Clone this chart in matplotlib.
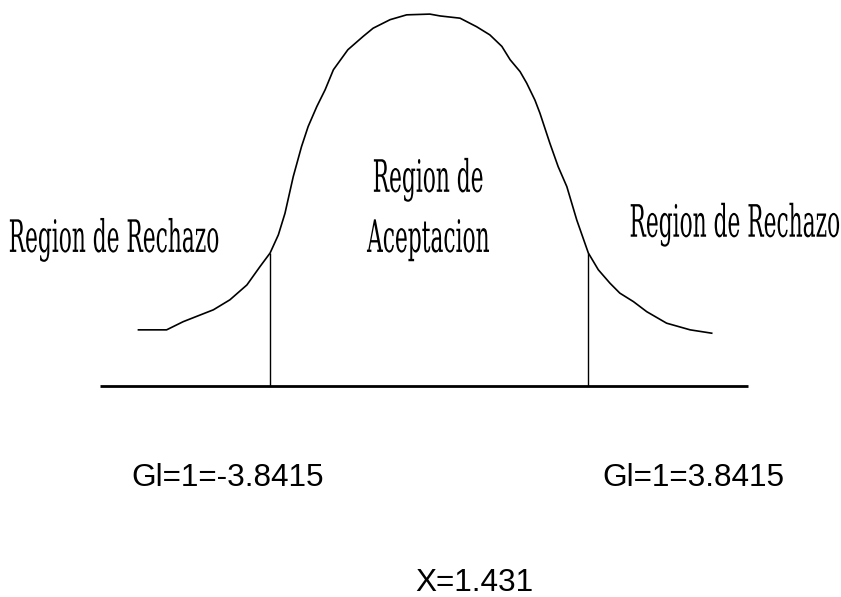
import numpy as np
import matplotlib.pyplot as plt
from matplotlib.patheffects import AbstractPathEffect
from matplotlib.transforms import Affine2D

# critical values and observed statistic
crit_left = -3.8415
crit_right = 3.8415
x_obs = 1.431

# bell curve traced as (x, height) pairs, peak height ~1
curve_x = [-7.02, -6.34, -5.94, -5.53, -5.21, -4.81, -4.40, -4.08, -3.84,
           -3.64, -3.48, -3.28, -3.08, -2.92, -2.71, -2.51, -2.31, -1.96,
           -1.59, -1.35, -0.94, -0.54, 0.02, 0.27, 0.75, 1.15, 1.47, 1.76,
           1.96, 2.20, 2.36, 2.56, 2.68, 2.92, 3.12, 3.33, 3.57, 3.85,
           4.09, 4.37, 4.61, 4.94, 5.26, 5.74, 6.31, 6.83]
curve_y = [0.151, 0.151, 0.173, 0.191, 0.205, 0.232, 0.272, 0.322, 0.358,
           0.407, 0.465, 0.564, 0.645, 0.699, 0.753, 0.798, 0.852, 0.906,
           0.942, 0.964, 0.987, 1.000, 1.002, 0.997, 0.991, 0.968, 0.946,
           0.915, 0.879, 0.847, 0.816, 0.770, 0.735, 0.654, 0.591, 0.537,
           0.447, 0.358, 0.313, 0.277, 0.250, 0.227, 0.200, 0.169, 0.151,
           0.142]
cut_height = 0.358
axis_span = [-7.95, 7.7]

labels_region = ['Region de Rechazo', 'Region de', 'Aceptacion', 'Region de Rechazo']
label_gl = ['Gl=1={}'.format(crit_left), 'Gl=1={}'.format(crit_right)]
label_x = 'X={}'.format(x_obs)


class TallText(AbstractPathEffect):
    """Stretch glyphs vertically about their baseline."""
    def __init__(self, sy):
        super().__init__()
        self.sy = sy

    def draw_path(self, renderer, gc, tpath, affine, rgbFace=None):
        renderer.draw_path(gc, tpath, Affine2D().scale(1, self.sy) + affine, rgbFace)


fig = plt.figure(figsize=(8.41, 5.97), dpi=100)
ax = fig.add_axes([0, 0, 1, 1])
ax.set_xlim(-10.365, 9.954)
ax.set_ylim(-0.569, 1.040)
ax.axis('off')

ax.plot(curve_x, curve_y, color='black', lw=1.2, solid_joinstyle='round')
ax.plot(axis_span, [0, 0], color='black', lw=2.0, solid_capstyle='butt')
ax.vlines([crit_left, crit_right], 0, cut_height, color='black', lw=1.0)

serif = dict(family='DejaVu Serif', stretch='condensed', fontsize=17.4,
             color='black', ha='center', va='baseline',
             path_effects=[TallText(1.85)])
ax.text(-7.61, 0.361, labels_region[0], **serif)
ax.text(-0.02, 0.523, labels_region[1], **serif)
ax.text(-0.02, 0.361, labels_region[2], **serif)
ax.text(7.39, 0.402, labels_region[3], **serif)

sans = dict(family='Liberation Sans', fontsize=22.7, color='black',
            ha='left', va='baseline')
ax.text(-7.18, -0.270, label_gl[0], **sans)
ax.text(4.20, -0.270, label_gl[1], **sans)
ax.text(-0.34, -0.553, label_x, **sans)

fig.savefig('out.png', dpi=100)
